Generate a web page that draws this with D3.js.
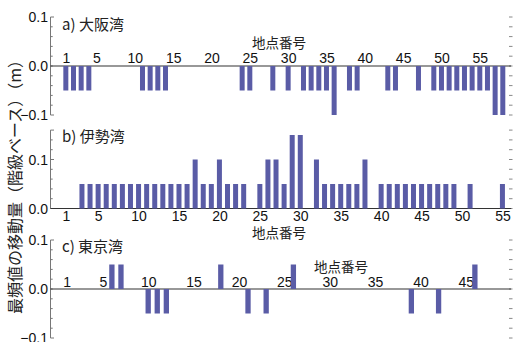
<!DOCTYPE html>
<html>
<head>
<meta charset="utf-8">
<script src="https://cdn.jsdelivr.net/npm/d3@7"></script>
<style>
  html, body { margin: 0; padding: 0; background: #fff; }
  svg { display: block; }
  .num { font-family: "Liberation Sans", Arial, Helvetica, sans-serif; font-size: 14px; fill: #111; }
  .jp { font-family: "Noto Sans CJK JP", "Noto Sans", sans-serif; fill: #222; }
</style>
</head>
<body>
<svg id="chart" width="513" height="342"></svg>
<script>
// Mode of the displacement per station (class-based), metres
const osakaValues = [
  -0.05, -0.05, -0.05, -0.05, 0, 0, 0, 0, 0, 0,
  -0.05, -0.05, -0.05, -0.05, 0, 0, 0, 0, 0, 0,
  0, 0, 0, -0.05, -0.05, 0, 0, -0.05, 0, -0.05,
  0, -0.05, -0.05, -0.05, -0.05, -0.1, 0, -0.05, -0.05, 0,
  0, 0, -0.05, -0.05, 0, 0, -0.05, 0, -0.05, -0.05,
  -0.05, -0.05, -0.05, -0.05, -0.05, -0.05, -0.1, -0.1
];
const iseValues = [
  0, 0, 0.05, 0.05, 0.05, 0.05, 0.05, 0.05, 0.05, 0.05,
  0.05, 0.05, 0.05, 0.05, 0.05, 0.05, 0.1, 0.05, 0.05, 0.1,
  0.05, 0.05, 0.05, 0, 0.05, 0.1, 0.1, 0.05, 0.15, 0.15,
  0, 0.1, 0.05, 0.05, 0.05, 0.05, 0.05, 0.1, 0, 0.05,
  0.05, 0.05, 0.05, 0.05, 0.05, 0.05, 0.05, 0.05, 0.05, 0,
  0.05, 0, 0, 0, 0.05
];
const tokyoValues = [
  0, 0, 0, 0, 0, 0.05, 0.05, 0, 0, -0.05,
  -0.05, -0.05, 0, 0, 0, 0, 0, 0.05, 0, 0,
  -0.05, 0, -0.05, 0, 0, 0.05, 0, 0, 0, 0,
  0, 0, 0, 0, 0, 0, 0, 0, -0.05, 0,
  0, -0.05, 0, 0, 0, 0.05
];
const osakaTicks = [1, 5, 10, 15, 20, 25, 30, 35, 40, 45, 50, 55];
const iseTicks = [1, 5, 10, 15, 20, 25, 30, 35, 40, 45, 50, 55];
const tokyoTicks = [1, 5, 10, 15, 20, 25, 30, 35, 40, 45];
const panelTitles = ["a) 大阪湾", "b) 伊勢湾", "c) 東京湾"];
const xTitle = "地点番号";
const yTitle = "最頻値の移動量（階級ベース）（m）";

const svg = d3.select("#chart");
const AX_L = 50.5, AX_R = 511;
const barColor = "#5a5ca6";

const panels = [
  { values: osakaValues, ticks: osakaTicks, title: panelTitles[0],
    xDom: [-1.0, 59.07], yDom: [-0.1, 0.1], yRange: [115, 17], yLabels: [0.1, 0, -0.1],
    labelSide: "top", labelY: 63, barW: 5, titleY: 25, xTitlePos: [279, 43] },
  { values: iseValues, ticks: iseTicks, title: panelTitles[1],
    xDom: [-0.89, 56.06], yDom: [0, 0.16], yRange: [208.5, 130.1], yLabels: [0.1, 0],
    labelSide: "bottom", labelY: 221, barW: 5, titleY: 137, xTitlePos: [279, 233] },
  { values: tokyoValues, ticks: tokyoTicks, title: panelTitles[2],
    xDom: [-0.765, 49.98], yDom: [-0.1, 0.1], yRange: [338, 240], yLabels: [0.1, 0, -0.1],
    labelSide: "top", labelY: 286.5, barW: 5.3, titleY: 247, xTitlePos: [341, 267] }
];

panels.forEach(p => {
  const x = d3.scaleLinear().domain(p.xDom).range([AX_L, AX_R]);
  const y = d3.scaleLinear().domain(p.yDom).range(p.yRange);
  const g = svg.append("g");
  const minor = d3.range(Math.round(p.yDom[0] * 50), Math.round(p.yDom[1] * 50) + 1).map(k => k / 50);

  // left axis line
  g.append("line").attr("x1", AX_L).attr("x2", AX_L)
    .attr("y1", y(p.yDom[0])).attr("y2", y(p.yDom[1]))
    .attr("stroke", "#777").attr("stroke-width", 1);
  // inward ticks on both sides
  minor.forEach(v => {
    const major = Math.abs(Math.abs(v) - 0.1) < 1e-9 || v === p.yDom[1];
    g.append("line").attr("x1", AX_L).attr("x2", AX_L + (major ? 3.5 : 2.2))
      .attr("y1", y(v)).attr("y2", y(v)).attr("stroke", "#777");
    g.append("line").attr("x1", AX_R - 2).attr("x2", AX_R + 1.5)
      .attr("y1", y(v)).attr("y2", y(v)).attr("stroke", "#888");
  });

  // y tick labels
  g.selectAll("text.ylab").data(p.yLabels).join("text")
    .attr("class", "num")
    .attr("x", 48).attr("y", d => y(d)).attr("dy", "0.36em")
    .attr("text-anchor", "end")
    .text(d => d3.format(".1f")(d));

  // station number labels
  const axis = (p.labelSide === "top" ? d3.axisTop(x) : d3.axisBottom(x))
    .tickValues(p.ticks).tickSize(0).tickFormat(d3.format("d"));
  const ag = g.append("g").attr("transform", `translate(0,${p.labelY})`).call(axis);
  ag.select(".domain").remove();
  ag.selectAll("text").attr("class", "num").attr("y", 0).attr("dy", "0")
    .attr("font-size", null).attr("font-family", null).attr("fill", null);

  // zero line
  g.append("line").attr("x1", AX_L).attr("x2", AX_R)
    .attr("y1", y(0)).attr("y2", y(0)).attr("stroke", "#333").attr("stroke-width", 1.2);

  // bars
  const data = p.values.map((v, i) => ({ st: i + 1, v })).filter(d => d.v !== 0);
  g.selectAll("rect.bar").data(data).join("rect")
    .attr("class", "bar")
    .attr("x", d => x(d.st) - p.barW / 2)
    .attr("width", p.barW)
    .attr("y", d => Math.min(y(d.v), y(0)))
    .attr("height", d => Math.abs(y(d.v) - y(0)))
    .attr("fill", barColor);

  // panel title
  g.append("text").attr("class", "jp").attr("x", 62).attr("y", p.titleY)
    .attr("dy", "0.36em").attr("font-size", 15).text(p.title);
  // x title
  g.append("text").attr("class", "jp").attr("x", p.xTitlePos[0]).attr("y", p.xTitlePos[1])
    .attr("dy", "0.36em").attr("text-anchor", "middle").attr("font-size", 13.5).text(xTitle);
});

// shared y title
svg.append("text").attr("class", "jp")
  .attr("transform", "translate(15,183) rotate(-90)")
  .attr("text-anchor", "middle").attr("dy", "0.36em")
  .attr("font-size", 16).text(yTitle);
</script>
</body>
</html>
